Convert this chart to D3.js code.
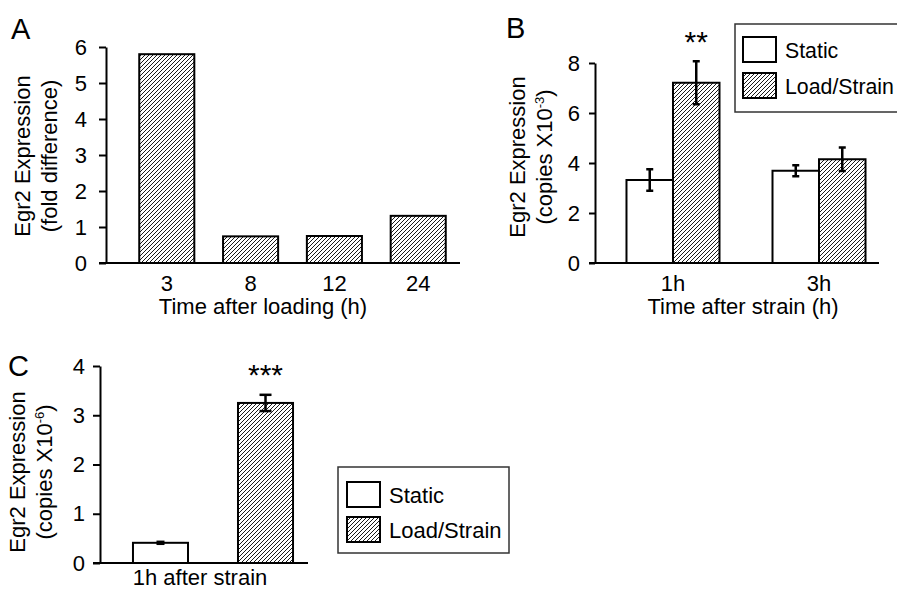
<!DOCTYPE html>
<html>
<head>
<meta charset="utf-8">
<script src="https://cdn.jsdelivr.net/npm/d3@7/dist/d3.min.js"></script>
<style>
  body { margin: 0; background: #fff; }
  svg { display: block; font-family: "Liberation Sans", Arial, sans-serif; }
  .domain { stroke: #000; stroke-width: 2; }
  .tick line { stroke: #000; stroke-width: 2; }
  .tick text { font-size: 22px; fill: #000; }
</style>
</head>
<body>
<div id="chart"></div>
<script>
// panel A
var timesA = ["3", "8", "12", "24"];
var foldA = [5.8, 0.74, 0.75, 1.31];

// panel B
var groupsB = ["1h", "3h"];
var staticB = [3.32, 3.69];
var staticErrB = [0.43, 0.22];
var loadB = [7.21, 4.15];
var loadErrB = [0.86, 0.47];

// panel C
var seriesC = ["Static", "Load/Strain"];
var valuesC = [0.41, 3.25];
var errC = [0.02, 0.165];

var legendLabels = ["Static", "Load/Strain"];

var width = 897, height = 590;
var fs = 22;

var svg = d3.select("#chart").append("svg")
  .attr("width", width)
  .attr("height", height);

// hatch fill
var defs = svg.append("defs");
defs.append("pattern")
  .attr("id", "hatch")
  .attr("patternUnits", "userSpaceOnUse")
  .attr("width", 4)
  .attr("height", 4)
  .append("path")
  .attr("d", "M-1,1 l2,-2 M0,4 l4,-4 M3,5 l2,-2")
  .attr("stroke", "#000")
  .attr("stroke-width", 0.9);

function fillFor(i) { return i == 0 ? "#fff" : "url(#hatch)"; }

function panelLabel(txt, x, y) {
  svg.append("text")
    .text(txt)
    .attr("x", x)
    .attr("y", y)
    .attr("font-size", 29)
    .attr("fill", "#000");
}

function yTitle(lines, x1, x2, cy, sup) {
  svg.append("text")
    .attr("transform", "translate(" + x1 + "," + cy + ") rotate(-90)")
    .attr("text-anchor", "middle")
    .attr("font-size", fs)
    .attr("fill", "#000")
    .text(lines[0]);
  var t = svg.append("text")
    .attr("transform", "translate(" + x2 + "," + cy + ") rotate(-90)")
    .attr("text-anchor", "middle")
    .attr("font-size", fs)
    .attr("fill", "#000");
  t.append("tspan").text(lines[1]);
  if (sup) {
    t.append("tspan").text(sup).attr("font-size", 13).attr("dy", -8);
    t.append("tspan").text(")").attr("dy", 8);
  }
}

function errorBar(g, cx, y, v, e, cap) {
  g.append("line")
    .attr("x1", cx).attr("x2", cx)
    .attr("y1", y(v + e)).attr("y2", y(v - e))
    .attr("stroke", "#000").attr("stroke-width", 2.5);
  [v + e, v - e].forEach(function(d) {
    g.append("line")
      .attr("x1", cx - cap / 2).attr("x2", cx + cap / 2)
      .attr("y1", y(d)).attr("y2", y(d))
      .attr("stroke", "#000").attr("stroke-width", 2.5);
  });
}

function legend(x, y, w, h, sx, sy, gap, tsize) {
  var lg = svg.append("g");
  lg.append("rect")
    .attr("x", x).attr("y", y)
    .attr("width", w).attr("height", h)
    .attr("fill", "#fff")
    .attr("stroke", "#333")
    .attr("stroke-width", 1.5);
  legendLabels.forEach(function(d, i) {
    lg.append("rect")
      .attr("x", sx).attr("y", sy + i * gap)
      .attr("width", 33).attr("height", 25)
      .attr("fill", fillFor(i))
      .attr("stroke", "#000")
      .attr("stroke-width", 2);
    lg.append("text")
      .text(d)
      .attr("x", sx + 42)
      .attr("y", sy + i * gap + 21)
      .attr("font-size", tsize)
      .attr("fill", "#000");
  });
}

// ---------- A ----------
var yA = d3.scaleLinear().domain([0, 6]).range([263, 47]);
var xA = d3.scaleBand().domain(timesA).range([125, 460])
  .paddingInner(0.343).paddingOuter(0.17);

var gA = svg.append("g");
gA.selectAll(".barA")
  .data(foldA)
  .enter()
  .append("rect")
  .attr("class", "barA")
  .attr("x", function(d, i) { return xA(timesA[i]); })
  .attr("y", function(d) { return yA(d); })
  .attr("width", xA.bandwidth())
  .attr("height", function(d) { return yA(0) - yA(d); })
  .attr("fill", "url(#hatch)")
  .attr("stroke", "#000")
  .attr("stroke-width", 2);

gA.append("g")
  .attr("transform", "translate(106,0)")
  .call(d3.axisLeft(yA).ticks(6).tickSize(7).tickSizeOuter(0).tickPadding(12));
gA.append("line")
  .attr("x1", 99).attr("x2", 460)
  .attr("y1", yA(0)).attr("y2", yA(0))
  .attr("stroke", "#000").attr("stroke-width", 2);
var axA = gA.append("g")
  .attr("transform", "translate(0," + yA(0) + ")")
  .call(d3.axisBottom(xA).tickSize(0).tickPadding(12));
axA.select(".domain").remove();

gA.append("text")
  .text("Time after loading (h)")
  .attr("x", 263).attr("y", 314)
  .attr("text-anchor", "middle")
  .attr("font-size", fs);
yTitle(["Egr2 Expression", "(fold difference)"], 30, 57, 156);
panelLabel("A", 11, 39);

// ---------- B ----------
var yB = d3.scaleLinear().domain([0, 8]).range([263, 63]);
var x0B = d3.scaleBand().domain(groupsB).range([604, 888])
  .paddingInner(0.363).paddingOuter(0.154);
var x1B = d3.scaleBand().domain(legendLabels).range([0, x0B.bandwidth()]);

var gB = svg.append("g");
groupsB.forEach(function(grp, gi) {
  var vals = [staticB[gi], loadB[gi]];
  var errs = [staticErrB[gi], loadErrB[gi]];
  vals.forEach(function(v, i) {
    var bx = x0B(grp) + x1B(legendLabels[i]);
    gB.append("rect")
      .attr("x", bx)
      .attr("y", yB(v))
      .attr("width", x1B.bandwidth())
      .attr("height", yB(0) - yB(v))
      .attr("fill", fillFor(i))
      .attr("stroke", "#000")
      .attr("stroke-width", 2);
    errorBar(gB, bx + x1B.bandwidth() / 2, yB, v, errs[i], 7);
  });
});

gB.append("g")
  .attr("transform", "translate(595,0)")
  .call(d3.axisLeft(yB).ticks(4).tickSize(6).tickSizeOuter(0).tickPadding(9));
gB.append("line")
  .attr("x1", 589).attr("x2", 879)
  .attr("y1", yB(0)).attr("y2", yB(0))
  .attr("stroke", "#000").attr("stroke-width", 2);
var axB = gB.append("g")
  .attr("transform", "translate(0," + yB(0) + ")")
  .call(d3.axisBottom(x0B).tickSize(0).tickPadding(12));
axB.select(".domain").remove();

gB.append("text")
  .text("Time after strain (h)")
  .attr("x", 743).attr("y", 314)
  .attr("text-anchor", "middle")
  .attr("font-size", fs);
gB.append("text")
  .text("**")
  .attr("x", x0B("1h") + x1B("Load/Strain") + x1B.bandwidth() / 2)
  .attr("y", 52)
  .attr("text-anchor", "middle")
  .attr("font-size", 30);
yTitle(["Egr2 Expression", "(copies X10"], 525, 552, 157, "-3");
panelLabel("B", 506, 38);
// box runs past the right edge, as in the original
legend(735, 24, 180, 88, 743, 37, 36, 21.3);

// ---------- C ----------
var yC = d3.scaleLinear().domain([0, 4]).range([563, 366]);
var xC = d3.scaleBand().domain(seriesC).range([100, 326])
  .paddingInner(0.476).paddingOuter(0.314);

var gC = svg.append("g");
valuesC.forEach(function(v, i) {
  gC.append("rect")
    .attr("x", xC(seriesC[i]))
    .attr("y", yC(v))
    .attr("width", xC.bandwidth())
    .attr("height", yC(0) - yC(v))
    .attr("fill", fillFor(i))
    .attr("stroke", "#000")
    .attr("stroke-width", 2);
  errorBar(gC, xC(seriesC[i]) + xC.bandwidth() / 2, yC, v, errC[i], i == 0 ? 8 : 12);
});

gC.append("g")
  .attr("transform", "translate(100,0)")
  .call(d3.axisLeft(yC).ticks(4).tickSize(7).tickSizeOuter(0).tickPadding(8));
gC.append("line")
  .attr("x1", 93).attr("x2", 308)
  .attr("y1", yC(0)).attr("y2", yC(0))
  .attr("stroke", "#000").attr("stroke-width", 2);

gC.append("text")
  .text("1h after strain")
  .attr("x", 200).attr("y", 585)
  .attr("text-anchor", "middle")
  .attr("font-size", fs);
gC.append("text")
  .text("***")
  .attr("x", xC("Load/Strain") + xC.bandwidth() / 2)
  .attr("y", 385)
  .attr("text-anchor", "middle")
  .attr("font-size", 30);
yTitle(["Egr2 Expression", "(copies X10"], 25, 52, 472, "-6");
panelLabel("C", 8, 376);
legend(338, 467, 171, 86, 347, 482, 35, fs);
</script>
</body>
</html>
